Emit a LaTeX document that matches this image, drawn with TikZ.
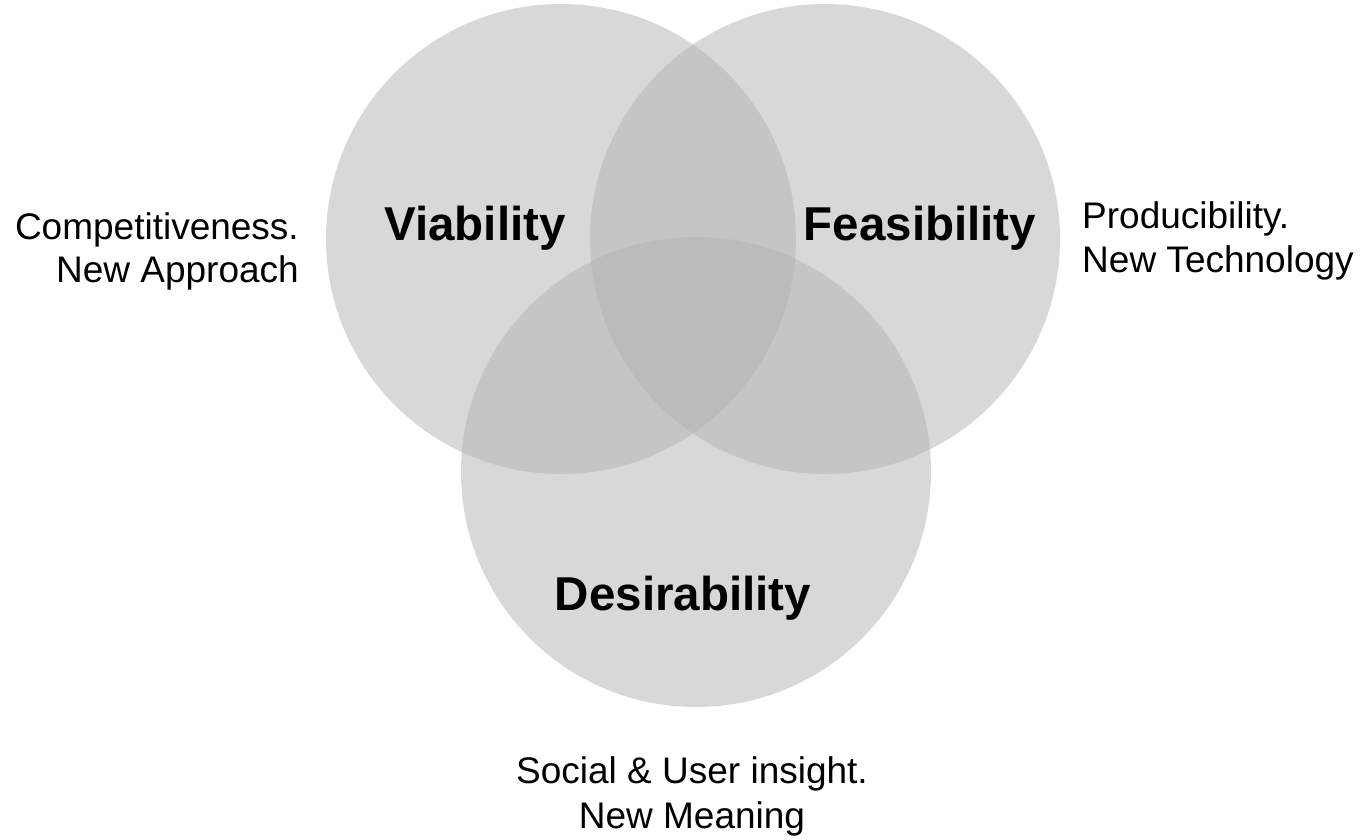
\documentclass[tikz,border=0pt]{standalone}
\usepackage{fontspec}
\setmainfont{Liberation Sans}
\definecolor{venngray}{RGB}{179,179,179}
\begin{document}
\begin{tikzpicture}[x=1pt,y=-1pt,
  venn/.style={circle,inner sep=0pt,minimum size=470pt,fill=venngray,fill opacity=0.5,draw=none},
  bigtitle/.style={font=\fontsize{47.5}{56}\selectfont\bfseries,inner sep=0pt,anchor=base},
  note/.style={font=\fontsize{37}{44}\selectfont,inner sep=0pt}]
\useasboundingbox[fill=white] (0,0) rectangle (1362,839);
\node[venn] (cv) at (561,239) {};
\node[venn] (cf) at (825,239) {};
\node[venn] (cd) at (696,472) {};
\node[bigtitle] (tv) at (475,240) {Viability};
\node[bigtitle] (tf) at (920,240) {Feasibility};
\node[bigtitle] (td) at (683,610) {Desirability};
\node[note,anchor=base east] (l1) at (299,239) {Competitiveness.};
\node[note,anchor=base east] (l2) at (299,282) {New Approach};
\node[note,anchor=base west] (r1) at (1082,228) {Producibility.};
\node[note,anchor=base west] (r2) at (1082,272) {New Technology};
\node[note,anchor=base] (b1) at (692,783) {Social \& User insight.};
\node[note,anchor=base] (b2) at (692,828) {New Meaning};
\end{tikzpicture}
\end{document}
